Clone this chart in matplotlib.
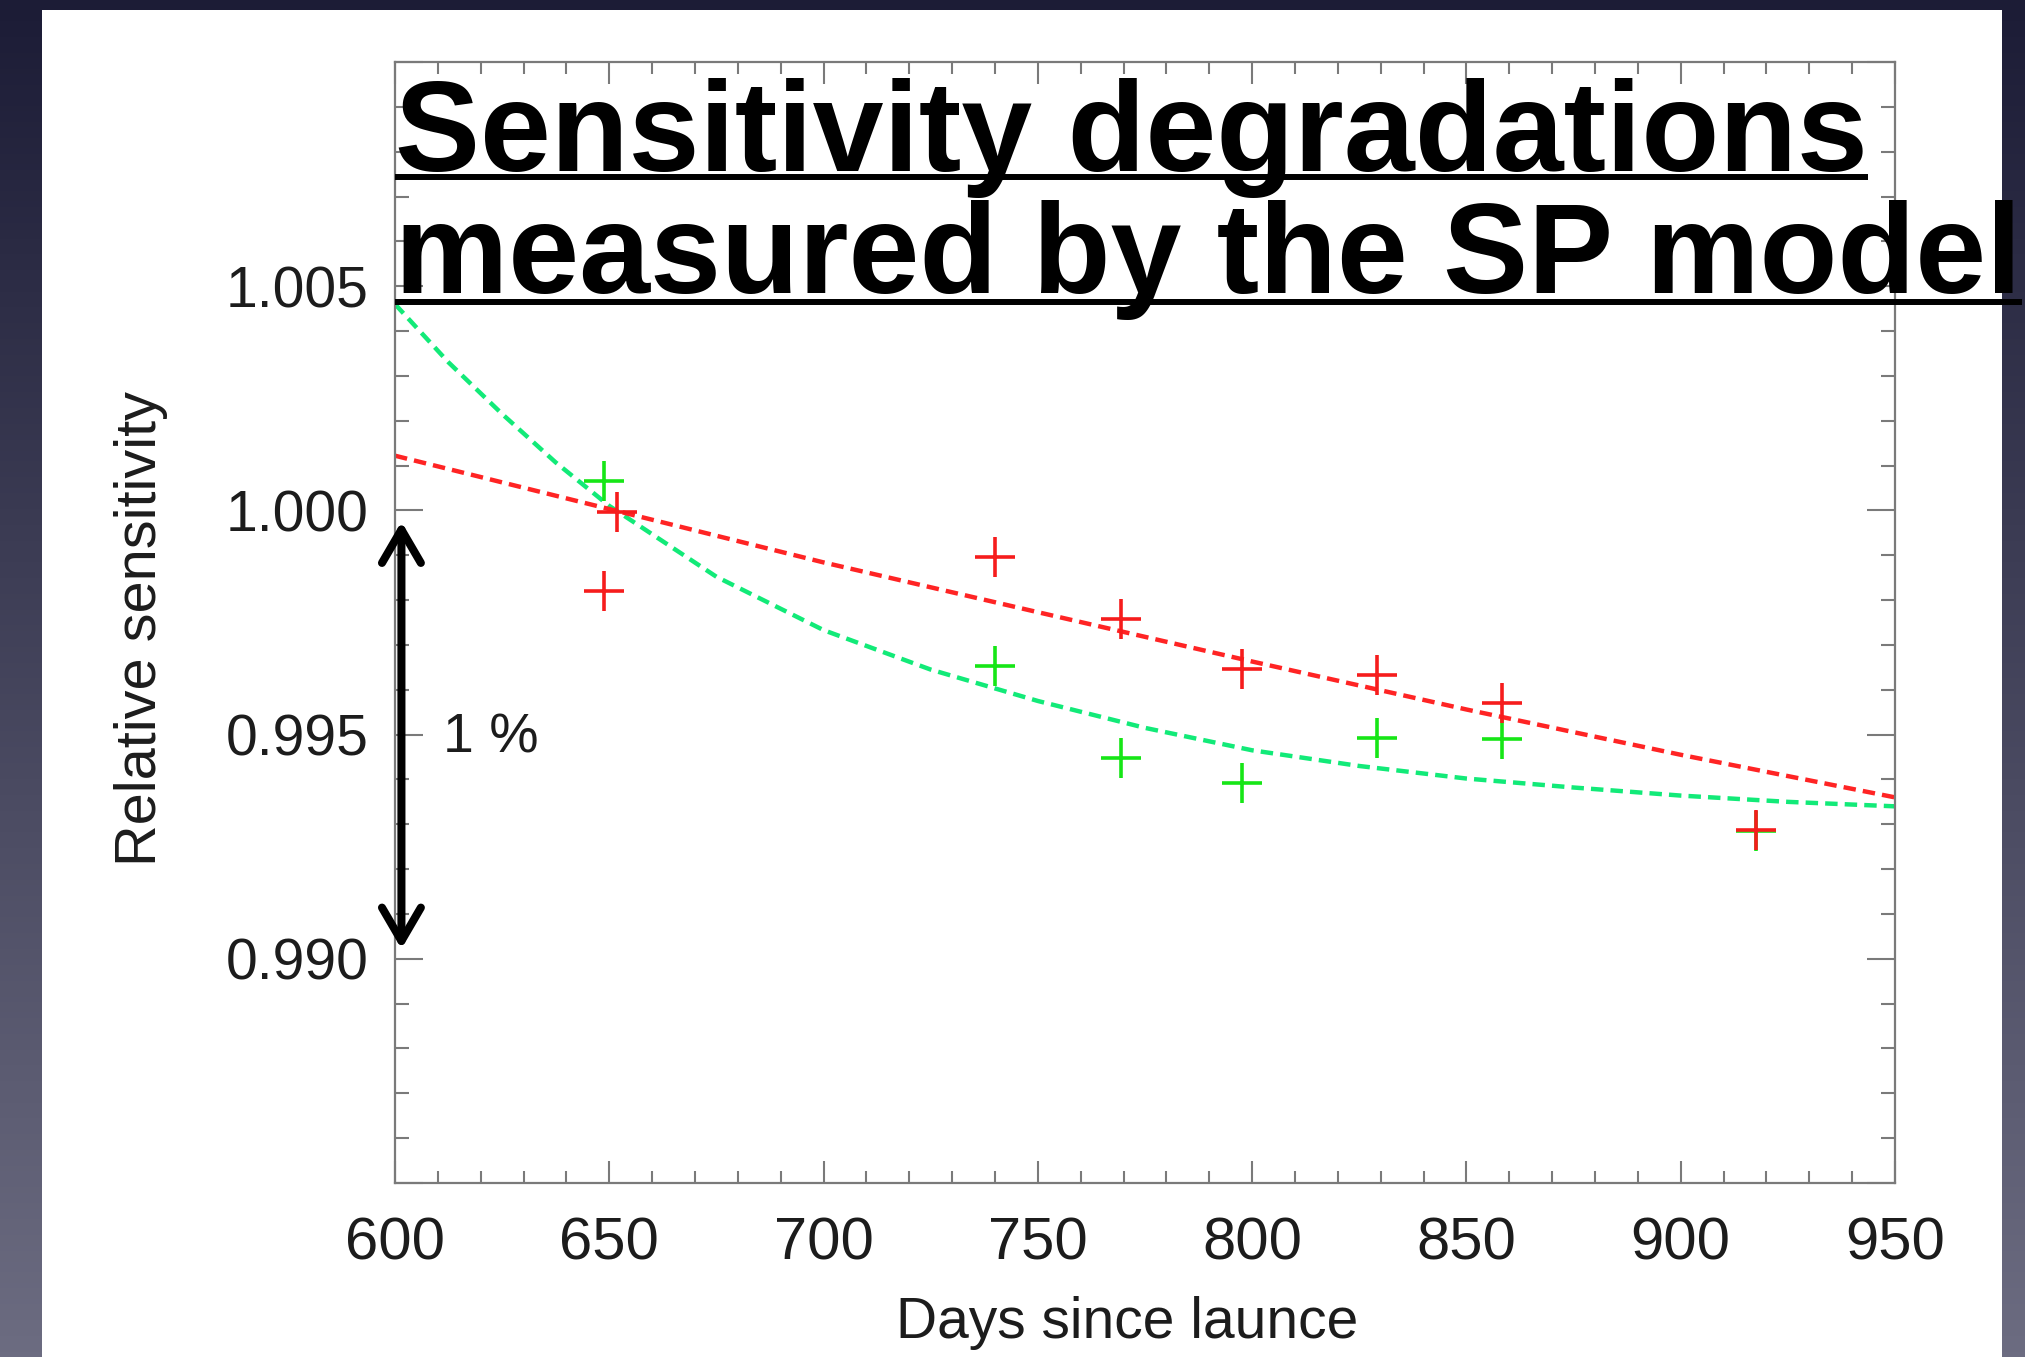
import numpy as np
import matplotlib
matplotlib.use("Agg")
import matplotlib.pyplot as plt
from matplotlib.lines import Line2D
from matplotlib.patches import Rectangle
from matplotlib.ticker import MultipleLocator

W, H, DPI = 2025, 1357, 100
FONT = "Liberation Sans"

# measured sensitivities (days since launch, relative sensitivity)
red_days = [648.8, 651.9, 740.0, 769.4, 797.6, 829.1, 858.2, 917.5]
red_sens = [0.99821, 0.99996, 0.99897, 0.99758, 0.99646, 0.99633, 0.99571, 0.99288]
green_days = [648.8, 740.0, 769.4, 797.6, 829.1, 858.2, 917.5]
green_sens = [1.00066, 0.99653, 0.99448, 0.99392, 0.99493, 0.99491, 0.99286]

# fitted trends
red_fit_days = [600, 650, 700, 750, 800, 850, 900, 950]
red_fit_sens = [1.00122, 1.00003, 0.99884, 0.99773, 0.99663, 0.99556, 0.99455, 0.99360]
green_fit_days = [600, 612.5, 625, 637.5, 650, 675, 700, 725, 750, 775, 800,
                  825, 850, 875, 900, 925, 950]
green_fit_sens = [1.00460, 1.00330, 1.00215, 1.00107, 1.00010, 0.99852, 0.99733,
                  0.99645, 0.99575, 0.99515, 0.99465, 0.99430, 0.99402, 0.99382,
                  0.99364, 0.99350, 0.99340]

x_ticks = [600, 650, 700, 750, 800, 850, 900, 950]
y_ticks = [0.985, 0.990, 0.995, 1.000, 1.005, 1.010]
y_tick_labels = ["", "0.990", "0.995", "1.000", "1.005", ""]

title_lines = ["Sensitivity degradations", "measured by the SP model"]
x_label = "Days since launce"
y_label = "Relative sensitivity"
span_label = "1 %"

fig = plt.figure(figsize=(W / DPI, H / DPI), dpi=DPI)

# slide background: dark vertical gradient with a white panel
bg = fig.add_axes([0, 0, 1, 1])
bg.set_axis_off()
top_c = np.array([0x1c, 0x1c, 0x36]) / 255
bot_c = np.array([0x6c, 0x6c, 0x81]) / 255
t = np.linspace(0, 1, 256)[:, None]
grad = top_c[None, :] * (1 - t) + bot_c[None, :] * t
grad = np.repeat(grad[:, None, :], 2, axis=1)
bg.imshow(grad, extent=[0, 1, 0, 1], aspect="auto", origin="upper")
bg.add_patch(Rectangle((42 / W, 0), 1960 / W, (H - 10) / H,
                       transform=bg.transAxes, facecolor="white", edgecolor="none"))
bg.set_xlim(0, 1)
bg.set_ylim(0, 1)

ax = fig.add_axes([395 / W, 1 - 1183 / H, 1500 / W, 1121 / H])
ax.set_facecolor("white")

ax.plot(green_fit_days, green_fit_sens, color="#12ea78", lw=3.2, dashes=(2.8, 1.6))
ax.plot(red_fit_days, red_fit_sens, color="#ff2424", lw=3.2, dashes=(2.8, 1.6))
ax.plot(green_days, green_sens, ls="none", marker="+", ms=29, mew=2.6, color="#16e616")
ax.plot(red_days, red_sens, ls="none", marker="+", ms=29, mew=2.6, color="#f61c1c")

ax.set_xlim(600, 950)
ax.set_ylim(0.985, 1.010)
ax.set_xticks(x_ticks)
ax.set_xticklabels([str(v) for v in x_ticks])
ax.set_yticks(y_ticks)
ax.set_yticklabels(y_tick_labels)
ax.xaxis.set_minor_locator(MultipleLocator(10))
ax.yaxis.set_minor_locator(MultipleLocator(0.001))

for s in ax.spines.values():
    s.set_color("#7a7a7a")
    s.set_linewidth(1.6)
ax.tick_params(axis="both", which="both", direction="in", color="#7a7a7a",
               width=1.5, top=True, right=True, labelcolor="#1c1c1c")
ax.tick_params(axis="x", which="major", length=16, pad=24, labelsize=43)
ax.tick_params(axis="x", which="minor", length=8.5)
ax.tick_params(axis="y", which="major", length=20, pad=19, labelsize=41)
ax.tick_params(axis="y", which="minor", length=10)
for lab in ax.get_xticklabels() + ax.get_yticklabels():
    lab.set_family(FONT)

ax.set_xlabel(x_label, fontsize=41, family=FONT, color="#1c1c1c")
ax.xaxis.set_label_coords(0.488, -0.138)
ax.xaxis.label.set_verticalalignment("baseline")
ax.set_ylabel(y_label, fontsize=41.5, family=FONT, color="#1c1c1c")
ax.yaxis.set_label_coords(-0.151, 0.495)

# 1 % span arrow
ax.annotate("", xy=(601.5, 0.99975), xytext=(601.5, 0.99022),
            arrowprops=dict(arrowstyle="<->,head_length=1.2,head_width=0.7",
                            mutation_scale=20, lw=5.8, color="black",
                            shrinkA=0, shrinkB=0),
            annotation_clip=False)
ax.text(611.2, 0.99460, span_label, fontsize=40, family=FONT, color="#1c1c1c",
        ha="left", va="baseline")

# underlined slide title
baselines = [171, 293]
underlines = [177, 302]
title_texts = []
for line, base in zip(title_lines, baselines):
    tt = fig.text(395 / W, 1 - base / H, line, fontsize=91.8, fontweight="bold",
                  family=FONT, color="black", ha="left", va="baseline")
    title_texts.append(tt)

fig.canvas.draw()
renderer = fig.canvas.get_renderer()
for tt, uy in zip(title_texts, underlines):
    bb = tt.get_window_extent(renderer)
    fig.add_artist(Line2D([bb.x0 / W, bb.x1 / W], [1 - uy / H, 1 - uy / H],
                          transform=fig.transFigure, color="black", lw=4.3,
                          solid_capstyle="butt"))

fig.savefig("out.png", dpi=DPI)
